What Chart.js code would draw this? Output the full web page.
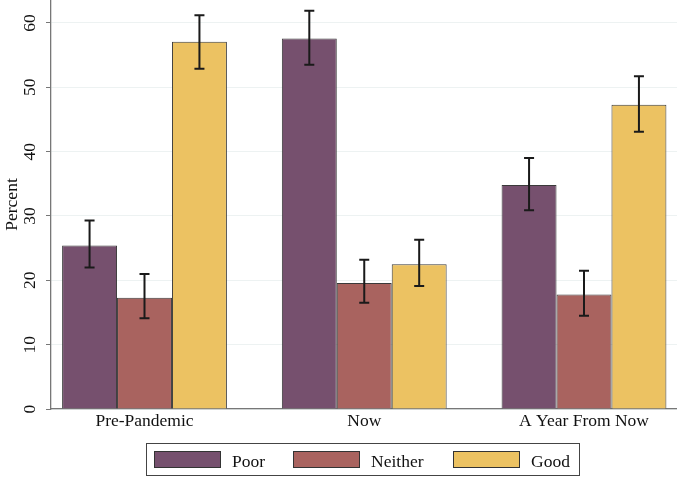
<!DOCTYPE html>
<html>
<head>
<meta charset="utf-8">
<script src="https://cdn.jsdelivr.net/npm/chart.js@4"></script>
<style>
  body { margin: 0; background: #fff; }
  #wrap { width: 677px; height: 477px; position: relative; }
</style>
</head>
<body>
<div id="wrap"><canvas id="chart"></canvas></div>
<script>
const categories = ["Pre-Pandemic", "Now", "A Year From Now"];
const series = ["Poor", "Neither", "Good"];
const colors = ["#76506e", "#a9635f", "#ecc262"];

const poor = [25.4, 57.6, 34.8];
const neither = [17.3, 19.6, 17.8];
const good = [57.1, 22.5, 47.3];

// confidence interval ends
const poorLow = [22.0, 53.5, 30.9];
const poorHigh = [29.3, 61.9, 39.0];
const neitherLow = [14.1, 16.5, 14.5];
const neitherHigh = [21.0, 23.2, 21.5];
const goodLow = [52.9, 19.1, 43.1];
const goodHigh = [61.2, 26.3, 51.7];

const yTicks = [0, 10, 20, 30, 40, 50, 60];

const values = [poor, neither, good];
const lows = [poorLow, neitherLow, goodLow];
const highs = [poorHigh, neitherHigh, goodHigh];

const FONT = "'Liberation Serif', 'Times New Roman', serif";

const datasets = series.map((name, s) => ({
    label: name,
    data: values[s].map((v, i) => ({ x: i, y: v })),
    backgroundColor: colors[s],
    borderColor: "#3a3a3a",
    borderWidth: 1,
    categoryPercentage: 0.75,
    barPercentage: 1.0
}));

// error bars drawn from the scale
const errorBars = {
    id: "errorBars",
    afterDatasetsDraw(chart) {
        const ctx = chart.ctx;
        const yScale = chart.scales.y;
        ctx.save();
        ctx.strokeStyle = "#1a1a1a";
        ctx.lineWidth = 2;
        chart.data.datasets.forEach((ds, s) => {
            const meta = chart.getDatasetMeta(s);
            meta.data.forEach((bar, i) => {
                const x = bar.x;
                const yl = yScale.getPixelForValue(lows[s][i]);
                const yh = yScale.getPixelForValue(highs[s][i]);
                ctx.beginPath();
                ctx.moveTo(x, yl); ctx.lineTo(x, yh);
                ctx.moveTo(x - 5, yl); ctx.lineTo(x + 5, yl);
                ctx.moveTo(x - 5, yh); ctx.lineTo(x + 5, yh);
                ctx.stroke();
            });
        });
        ctx.restore();
    }
};

// rotated y tick labels, axis title and boxed legend
const decorations = {
    id: "decorations",
    afterDraw(chart) {
        const ctx = chart.ctx;
        const yScale = chart.scales.y;
        ctx.save();
        ctx.fillStyle = "#111";
        ctx.font = "17.5px " + FONT;
        ctx.textAlign = "center";
        ctx.textBaseline = "alphabetic";
        yScale.ticks.forEach(t => {
            const y = yScale.getPixelForValue(t.value);
            ctx.save();
            ctx.translate(34.5, y);
            ctx.rotate(-Math.PI / 2);
            ctx.fillText(String(t.value), 0, 0);
            ctx.restore();
        });

        ctx.save();
        ctx.translate(17, (chart.chartArea.top + chart.chartArea.bottom) / 2);
        ctx.rotate(-Math.PI / 2);
        ctx.fillText("Percent", 0, 0);
        ctx.restore();

        // legend
        ctx.strokeStyle = "#444";
        ctx.lineWidth = 1;
        ctx.strokeRect(146.5, 443.5, 433, 32);
        const swatchX = [154, 293, 453];
        ctx.textAlign = "left";
        series.forEach((name, s) => {
            ctx.fillStyle = colors[s];
            ctx.fillRect(swatchX[s], 451, 67, 17);
            ctx.strokeStyle = "#333";
            ctx.strokeRect(swatchX[s] + 0.5, 451.5, 66, 16);
            ctx.fillStyle = "#111";
            ctx.fillText(name, swatchX[s] + 78, 466.5);
        });
        ctx.restore();
    }
};

new Chart(document.getElementById("chart"), {
    type: "bar",
    data: { datasets: datasets },
    plugins: [errorBars, decorations],
    options: {
        responsive: true,
        maintainAspectRatio: false,
        animation: false,
        layout: { padding: { top: 0, right: 0, bottom: 40, left: 0 } },
        plugins: {
            legend: { display: false },
            tooltip: { enabled: false }
        },
        scales: {
            x: {
                type: "linear",
                offset: false,
                min: -0.4255,
                max: 2.4232,
                afterBuildTicks: scale => { scale.ticks = categories.map((c, i) => ({ value: i })); },
                afterFit: scale => { scale.height = 28; },
                grid: { display: false, drawTicks: false, offset: false },
                border: { display: true, color: "#777", width: 1.3 },
                ticks: {
                    padding: 2,
                    color: "#111",
                    font: { family: FONT, size: 17.5 },
                    callback: v => categories[v]
                }
            },
            y: {
                min: 0,
                max: 63.57,
                afterBuildTicks: scale => { scale.ticks = yTicks.map(v => ({ value: v })); },
                afterFit: scale => { scale.width = 51; },
                grid: { color: "#edf2f2", lineWidth: 1, tickColor: "#777", tickLength: 5 },
                border: { display: true, color: "#777", width: 1.3 },
                ticks: { display: false }
            }
        }
    }
});
</script>
</body>
</html>
